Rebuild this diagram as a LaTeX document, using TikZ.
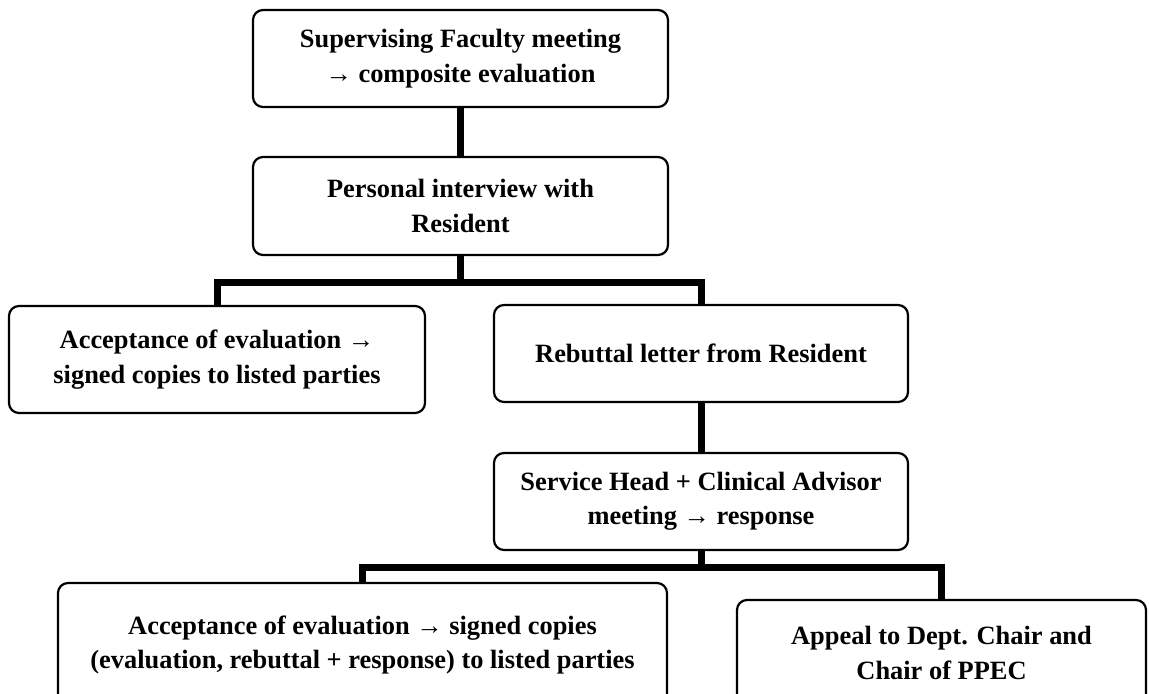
\documentclass[tikz,border=0pt]{standalone}
\usepackage{fontspec}
\setmainfont{Liberation Serif}
\usetikzlibrary{positioning}

\begin{document}
\begin{tikzpicture}[x=0.5pt,y=-0.5pt,font=\bfseries\fontsize{13.2}{17.2}\selectfont,
          caja/.style={draw,line width=1.1pt,rounded corners=5pt,align=center,inner sep=0pt},
          rama/.style={line width=3.5pt}]
        \useasboundingbox (0,0) rectangle (1149,694);
        \node[caja,minimum width=207.5pt,minimum height=48.5pt] (faculty) at (460.5,58.5) {Supervising Faculty meeting\\→ composite evaluation};
        \node[caja,minimum width=207.5pt,minimum height=49pt] (interview) at (460.5,206) {Personal interview with\\Resident};
        \node[caja,minimum width=208pt,minimum height=53.5pt] (accept) at (217,359.5) {Acceptance of evaluation →\\signed copies to listed parties};
        \node[caja,minimum width=207pt,minimum height=48.5pt] (rebuttal) at (701,353.5) {Rebuttal letter from Resident};
        \node[caja,minimum width=207pt,minimum height=48.5pt] (service) at (701,501.5) {Service Head + Clinical Advisor\\meeting → response};
        \node[caja,minimum width=304.5pt,minimum height=62pt] (acceptall) at (362.5,645) {Acceptance of evaluation → signed copies\\(evaluation, rebuttal + response) to listed parties};
        \node[caja,minimum width=204.5pt,minimum height=53pt] (appeal) at (941.5,653) {Appeal to Dept. Chair and\\Chair of PPEC};
        \draw[rama] (faculty) -- (interview);
        % barras horizontales de cada bifurcacion
        \coordinate (bar1) at (460.5,283);
        \coordinate (bar2) at (701,567);
        \draw[rama] (interview) -- (bar1);
        \draw[rama] (accept.north) |- (bar1) -| (rebuttal.north);
        \draw[rama] (rebuttal) -- (service);
        \draw[rama] (service) -- (bar2);
        \draw[rama] (acceptall.north) |- (bar2) -| (appeal.north);
      \end{tikzpicture}
\end{document}
